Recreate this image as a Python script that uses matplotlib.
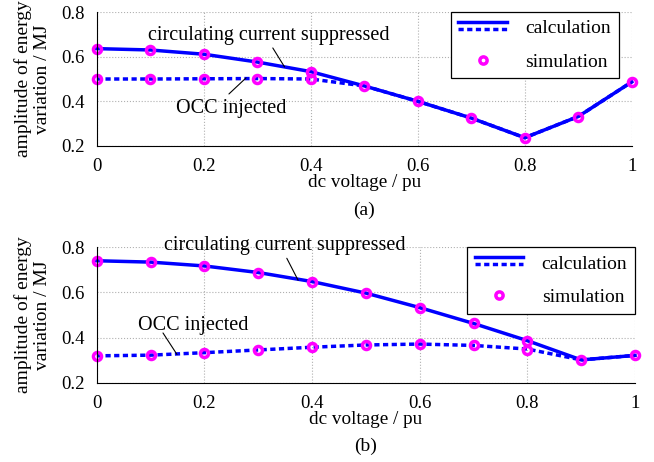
import matplotlib.pyplot as plt
from matplotlib.lines import Line2D
from matplotlib.legend_handler import HandlerBase

plt.rcParams['font.family'] = ['Liberation Serif', 'DejaVu Serif']
plt.rcParams['font.size'] = 13.5

dc = [0, 0.1, 0.2, 0.3, 0.4, 0.5, 0.6, 0.7, 0.8, 0.9, 1.0]

# (a)
calc_sup_a = [0.636, 0.630, 0.611, 0.576, 0.533, 0.469, 0.400, 0.325, 0.237, 0.332, 0.487]
calc_occ_a = [0.500, 0.500, 0.501, 0.502, 0.500, 0.469, 0.400, 0.325, 0.237, 0.332, 0.487]
sim_a = [0.636, 0.630, 0.611, 0.576, 0.533, 0.469, 0.400, 0.325, 0.237, 0.332, 0.487]
sim_occ_a = [0.500, 0.500, 0.501, 0.502, 0.500]

# (b)
calc_sup_b = [0.740, 0.734, 0.717, 0.688, 0.648, 0.597, 0.533, 0.463, 0.387, 0.302, 0.322]
calc_occ_b = [0.320, 0.323, 0.334, 0.346, 0.358, 0.368, 0.372, 0.366, 0.350, 0.302, 0.322]
sim_b = [0.740, 0.734, 0.717, 0.688, 0.648, 0.597, 0.533, 0.463, 0.387, 0.302, 0.322]
sim_occ_b = [0.320, 0.323, 0.334, 0.346, 0.358, 0.368, 0.372, 0.366, 0.346]

blue = '#0000ff'
mag = '#ff00ff'
dash = (0, (1.5, 1))


class StackedLines(HandlerBase):
    def create_artists(self, legend, orig, xd, yd, w, h, fs, trans):
        l1 = Line2D([-xd, -xd + w], [h * 0.85, h * 0.85], color=blue, lw=2.5, ls='-')
        l2 = Line2D([-xd, -xd + w], [h * 0.35, h * 0.35], color=blue, lw=2.5, ls=dash)
        for l in (l1, l2):
            l.set_transform(trans)
        return [l1, l2]


def panel(ax, sup, occ, sim, sim_occ, label, leg_anchor):
    ax.plot(dc, occ, color=blue, lw=2.5, ls=dash)
    ax.plot(dc, sup, color=blue, lw=2.5)
    ax.plot(dc, sim, ls='none', marker='o', ms=5.8, mfc='none', mec=mag, mew=2.5)
    ax.plot(dc[:len(sim_occ)], sim_occ, ls='none', marker='o', ms=5.8, mfc='none', mec=mag, mew=2.5)
    ax.set_xlim(0, 1)
    ax.set_ylim(0.2, 0.8)
    ax.set_xticks([0, 0.2, 0.4, 0.6, 0.8, 1])
    ax.set_xticklabels(['0', '0.2', '0.4', '0.6', '0.8', '1'])
    ax.set_yticks([0.2, 0.4, 0.6, 0.8])
    ax.grid(True, ls=':', color='#b0b0b0', lw=0.8)
    ax.spines['top'].set_visible(False)
    ax.spines['right'].set_visible(False)
    ax.tick_params(length=0, pad=9)
    ax.set_xlabel('dc voltage / pu', fontsize=13.8, labelpad=-1)
    ax.set_ylabel('amplitude of energy\nvariation / MJ', fontsize=14, linespacing=1.15, labelpad=7)
    for ln in ax.lines:
        ln.set_clip_on(False)
    ax.text(0.5, label[1], label[0], transform=ax.transAxes, ha='center', va='center', fontsize=14)
    proxy_line = Line2D([], [], color=blue)
    proxy_sim = Line2D([], [], ls='none', marker='o', ms=5.2, mfc='none', mec=mag, mew=2.5)
    leg = ax.legend([proxy_line, proxy_sim], ['calculation', 'simulation'],
                    handler_map={proxy_line: StackedLines()},
                    loc='upper right', bbox_to_anchor=leg_anchor, fontsize=14,
                    fancybox=False, edgecolor='black', framealpha=1,
                    handlelength=2.5, handletextpad=0.95, labelspacing=0.8,
                    borderpad=0.4, borderaxespad=0)
    leg.get_frame().set_linewidth(0.9)


fig = plt.figure(figsize=(6.54, 4.62), dpi=100)
ax1 = fig.add_axes([0.148, 0.684, 0.818, 0.290])
ax2 = fig.add_axes([0.148, 0.171, 0.823, 0.294])

panel(ax1, calc_sup_a, calc_occ_a, sim_a, sim_occ_a, ('(a)', -0.478), (0.976, 1.0))
panel(ax2, calc_sup_b, calc_occ_b, sim_b, sim_occ_b, ('(b)', -0.47), (1.0, 1.0))

line_kw = dict(arrowstyle='-', color='black', lw=0.8, shrinkA=0, shrinkB=0)

ax1.text(0.321, 0.697, 'circulating current suppressed', ha='center', va='center', fontsize=14.5)
ax1.annotate('', xy=(0.351, 0.554), xytext=(0.329, 0.639), arrowprops=line_kw)
ax1.text(0.252, 0.37, 'OCC injected', ha='center', va='center', fontsize=14.5)
ax1.annotate('', xy=(0.279, 0.505), xytext=(0.247, 0.433), arrowprops=line_kw)

ax2.text(0.349, 0.809, 'circulating current suppressed', ha='center', va='center', fontsize=14.5)
ax2.annotate('', xy=(0.374, 0.654), xytext=(0.353, 0.751), arrowprops=line_kw)
ax2.text(0.18, 0.456, 'OCC injected', ha='center', va='center', fontsize=14.5)
ax2.annotate('', xy=(0.149, 0.326), xytext=(0.123, 0.421), arrowprops=line_kw)

fig.savefig('out.png', dpi=100)
